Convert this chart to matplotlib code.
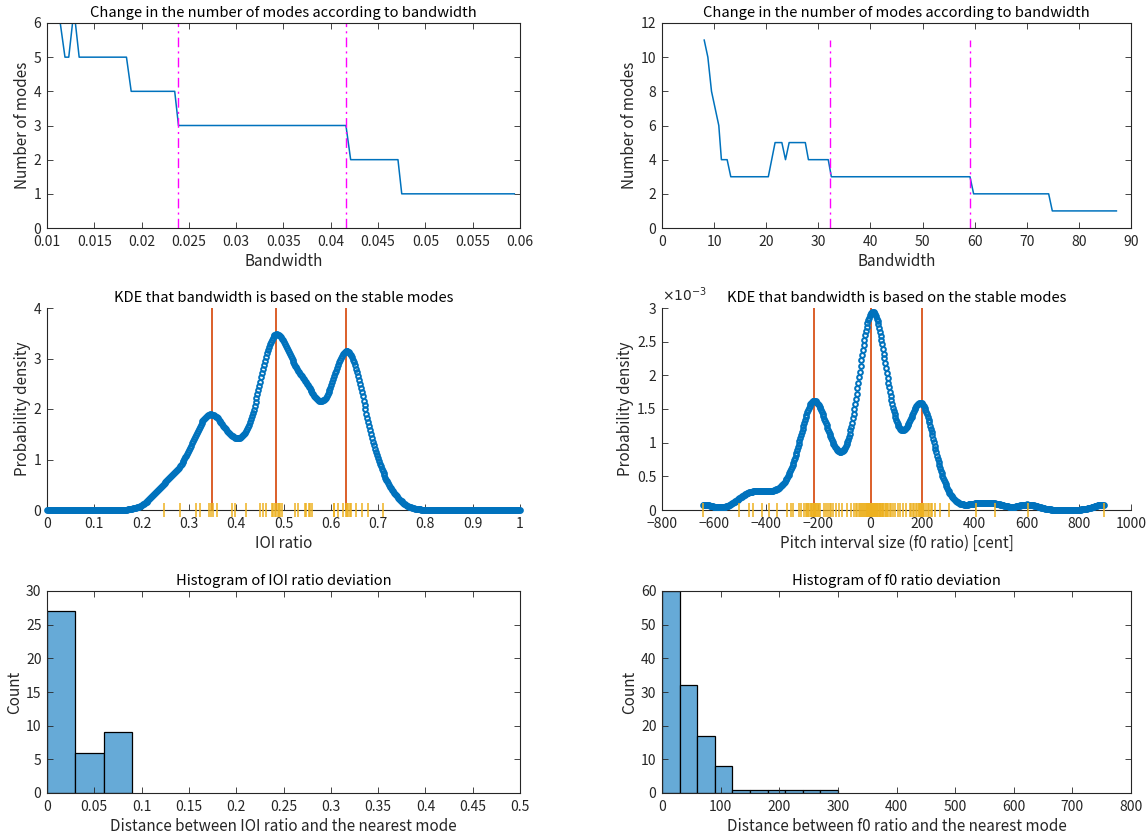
import numpy as np
import matplotlib
matplotlib.use('Agg')
import matplotlib.pyplot as plt
from matplotlib.ticker import FuncFormatter, MultipleLocator

plt.rcParams['font.family'] = ['Noto Sans CJK JP', 'DejaVu Sans']
plt.rcParams['mathtext.fontset'] = 'dejavusans'

# ---- number of modes vs bandwidth (IOI ratio) ----
ioi_bw = [0.0102, 0.0114, 0.0119, 0.0123, 0.0127, 0.0130, 0.0134, 0.0184, 0.0189,
          0.0235, 0.0239, 0.0416, 0.0421, 0.0471, 0.0475, 0.0594]
ioi_nmodes = [6, 6, 5, 5, 6, 6, 5, 5, 4, 4, 3, 3, 2, 2, 1, 1]
ioi_stable = [0.0239, 0.0416]

# ---- number of modes vs bandwidth (pitch interval) ----
pitch_bw = [8.1, 8.8, 9.5, 10.9, 11.4, 12.5, 13.2, 20.4, 21.7, 23.0, 23.7, 24.4, 27.5,
            28.1, 31.9, 32.5, 59.1, 59.8, 74.2, 74.9, 87.2]
pitch_nmodes = [11, 10, 8, 6, 4, 4, 3, 3, 5, 5, 4, 5, 5, 4, 4, 3, 3, 2, 2, 1, 1]
pitch_stable = [32.3, 59.1]

# ---- raw samples ----
ioi_ratio = [0.248, 0.281, 0.316, 0.324, 0.342, 0.346, 0.350, 0.359, 0.391, 0.397,
             0.420, 0.450, 0.456, 0.463, 0.476, 0.478, 0.482, 0.485, 0.488, 0.490, 0.492,
             0.496, 0.524, 0.531, 0.545, 0.548, 0.554, 0.556, 0.560, 0.607, 0.607,
             0.616, 0.625, 0.633, 0.635, 0.637, 0.640, 0.643, 0.654, 0.665, 0.679, 0.711]
ioi_kde_bw = 0.03
ioi_modes = [0.348, 0.484, 0.632]

pitch_cent = [-643, -503, -465, -449, -415, -389, -357,
              -319, -305, -296, -274, -265,
              -254, -248, -243, -238, -234, -230, -227, -224,
              -220, -218, -216, -214, -212, -209, -206, -202, -197, -192,
              -177, -170, -163, -156, -150, -144,
              -133, -120, -108, -90, -75, -64, -56,
              -50, -45, -40, -36, -32, -28, -24, -21, -18, -15,
              -12, -10, -8, -6, -4, -2, 0, 0, 1, 2, 3, 5, 6, 8, 10, 12, 14,
              17, 19, 22, 25, 27, 30, 33, 35, 38, 41, 44, 47, 50,
              55, 60, 64, 69, 74, 80, 86, 94,
              104, 112, 124, 135,
              150, 157, 163, 168, 173, 178,
              186, 188, 190, 192, 194, 196, 198, 200, 203, 206,
              214, 219, 225, 231, 238, 246,
              268, 302, 406, 479, 604, 896]
pitch_kde_bw = 40
pitch_modes = [-218, 4, 196]

# ---- deviation histograms ----
ioi_dev_edges = [0, 0.03, 0.06, 0.09]
ioi_dev_counts = [27, 6, 9]
f0_dev_edges = [0, 30, 60, 90, 120, 150, 180, 210, 240, 270, 300]
f0_dev_counts = [60, 32, 17, 8, 1, 1, 1, 1, 1, 1]

blue = '#0072BD'
orange = '#D95319'
yellow = '#EDB120'
magenta = '#FF00FF'
histcol = '#66AAD7'
dark = '#262626'

TITLE_FS = 10.6
LABEL_FS = 11
TICK_FS = 10


def kde(samples, grid, bw):
    # gaussian kernel density estimate
    s = np.asarray(samples, dtype=float)
    z = (grid[:, None] - s[None, :]) / bw
    return np.exp(-0.5 * z ** 2).sum(axis=1) / (len(s) * bw * np.sqrt(2 * np.pi))


def style(ax, box=True):
    ax.tick_params(direction='in', length=4, width=0.6, top=box, right=box,
                   colors=dark, labelsize=TICK_FS)
    ax.tick_params(axis='x', pad=5)
    ax.tick_params(axis='y', pad=4)
    for s in ax.spines.values():
        s.set_linewidth(0.8)
        s.set_color(dark)
    if not box:
        ax.spines['top'].set_visible(False)
        ax.spines['right'].set_visible(False)


def labels(ax, title, xlabel, ylabel):
    ax.set_title(title, fontsize=TITLE_FS, pad=4, color='black')
    ax.set_xlabel(xlabel, fontsize=LABEL_FS, labelpad=3, color=dark)
    ax.set_ylabel(ylabel, fontsize=LABEL_FS, labelpad=2, color=dark)


gfmt = FuncFormatter(lambda v, p: f'{v:g}')

fig = plt.figure(figsize=(11.47, 8.39), dpi=100)
W, H = 1147, 839
xl, wl = 47 / W, 473 / W
xr, wr = 662 / W, 469 / W
rows = [(1 - 228 / H, 205 / H), (1 - 510 / H, 202 / H), (1 - 793 / H, 202 / H)]
dashdot = (0, (7, 3, 1.5, 3))

# --- row 1: number of modes ---
ax = fig.add_axes([xl, rows[0][0], wl, rows[0][1]])
ax.plot(ioi_bw, ioi_nmodes, color=blue, lw=1.1)
ax.vlines(ioi_stable, 0, max(ioi_nmodes), colors=magenta, linestyles=dashdot, lw=1)
ax.set_xlim(0.01, 0.06)
ax.set_ylim(0, 6)
ax.xaxis.set_major_locator(MultipleLocator(0.005))
ax.xaxis.set_major_formatter(gfmt)
labels(ax, 'Change in the number of modes according to bandwidth', 'Bandwidth', 'Number of modes')
style(ax)

ax = fig.add_axes([xr, rows[0][0], wr, rows[0][1]])
ax.plot(pitch_bw, pitch_nmodes, color=blue, lw=1.1)
ax.vlines(pitch_stable, 0, max(pitch_nmodes), colors=magenta, linestyles=dashdot, lw=1)
ax.set_xlim(0, 90)
ax.set_ylim(0, 12)
ax.xaxis.set_major_locator(MultipleLocator(10))
ax.yaxis.set_major_locator(MultipleLocator(2))
labels(ax, 'Change in the number of modes according to bandwidth', 'Bandwidth', 'Number of modes')
style(ax)

# --- row 2: KDE ---
ax = fig.add_axes([xl, rows[1][0], wl, rows[1][1]])
gx = np.linspace(0, 1, 500)
ax.plot(gx, kde(ioi_ratio, gx, ioi_kde_bw), 'o', color=blue, ms=3.4, mfc='none',
        mew=1.4, clip_on=False, zorder=3)
ax.vlines(ioi_modes, 0, 4, colors=orange, lw=1.3, zorder=2)
ax.plot(ioi_ratio, np.zeros(len(ioi_ratio)), '|', color=yellow, ms=9.5, mew=1.1,
        clip_on=False, zorder=4)
ax.set_xlim(0, 1)
ax.set_ylim(0, 4)
ax.xaxis.set_major_locator(MultipleLocator(0.1))
ax.xaxis.set_major_formatter(gfmt)
ax.yaxis.set_major_locator(MultipleLocator(1))
labels(ax, 'KDE that bandwidth is based on the stable modes', 'IOI ratio', 'Probability density')
style(ax, box=False)

ax = fig.add_axes([xr, rows[1][0], wr, rows[1][1]])
gp = np.linspace(min(pitch_cent), max(pitch_cent), 520)
ax.plot(gp, kde(pitch_cent, gp, pitch_kde_bw), 'o', color=blue, ms=3.4, mfc='none',
        mew=1.4, clip_on=False, zorder=3)
ax.vlines(pitch_modes, 0, 3e-3, colors=orange, lw=1.3, zorder=2)
ax.plot(pitch_cent, np.zeros(len(pitch_cent)), '|', color=yellow, ms=9.5, mew=1.1,
        clip_on=False, zorder=4)
ax.set_xlim(-800, 1000)
ax.set_ylim(0, 3e-3)
ax.xaxis.set_major_locator(MultipleLocator(200))
ax.yaxis.set_major_locator(MultipleLocator(0.5e-3))
ax.yaxis.set_major_formatter(FuncFormatter(lambda v, p: f'{v * 1e3:g}'))
ax.text(0.0, 1.02, r'$\times 10^{-3}$', transform=ax.transAxes, ha='left', va='bottom',
        fontsize=TICK_FS, color=dark)
labels(ax, 'KDE that bandwidth is based on the stable modes',
       'Pitch interval size (f0 ratio) [cent]', 'Probability density')
style(ax, box=False)

# --- row 3: histograms ---
ax = fig.add_axes([xl, rows[2][0], wl, rows[2][1]])
ax.bar(ioi_dev_edges[:-1], ioi_dev_counts, width=np.diff(ioi_dev_edges), align='edge',
       color=histcol, edgecolor='black', lw=0.9)
ax.set_xlim(0, 0.5)
ax.set_ylim(0, 30)
ax.xaxis.set_major_locator(MultipleLocator(0.05))
ax.xaxis.set_major_formatter(gfmt)
ax.yaxis.set_major_locator(MultipleLocator(5))
labels(ax, 'Histogram of IOI ratio deviation',
       'Distance between IOI ratio and the nearest mode', 'Count')
style(ax)

ax = fig.add_axes([xr, rows[2][0], wr, rows[2][1]])
ax.bar(f0_dev_edges[:-1], f0_dev_counts, width=np.diff(f0_dev_edges), align='edge',
       color=histcol, edgecolor='black', lw=0.9)
ax.set_xlim(0, 800)
ax.set_ylim(0, 60)
ax.xaxis.set_major_locator(MultipleLocator(100))
ax.yaxis.set_major_locator(MultipleLocator(10))
labels(ax, 'Histogram of f0 ratio deviation',
       'Distance between f0 ratio and the nearest mode', 'Count')
style(ax)

fig.savefig('out.png', dpi=100)
